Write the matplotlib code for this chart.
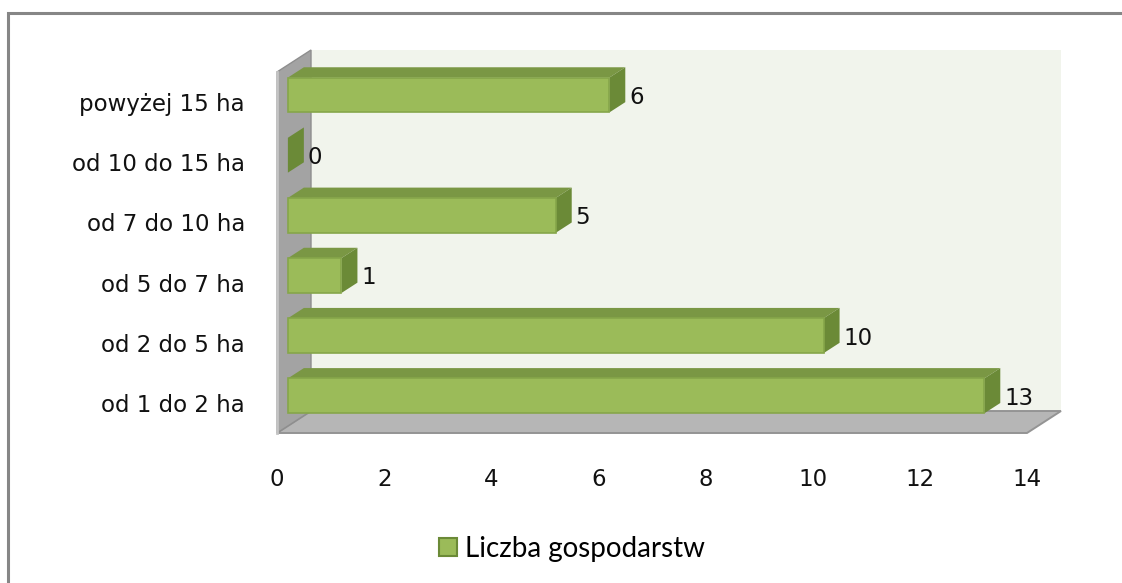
import matplotlib
matplotlib.use("Agg")
import matplotlib.pyplot as plt
from matplotlib.patches import Polygon, Patch, Rectangle

kategorie = ["od 1 do 2 ha", "od 2 do 5 ha", "od 5 do 7 ha",
             "od 7 do 10 ha", "od 10 do 15 ha", "powyżej 15 ha"]
liczba = [13, 10, 1, 5, 0, 6]
xticki = [0, 2, 4, 6, 8, 10, 12, 14]
seria = "Liczba gospodarstw"

# kolory w stylu excela
c_przod = "#9BBB59"
c_gora = "#7A9744"
c_bok = "#6B8A37"
c_krawedz = "#86A64A"
c_tyl = "#F1F4EC"
c_sciana = "#A3A3A3"
c_podloga = "#B6B6B6"

W, H = 1122, 583
fs = 16.5
fig = plt.figure(figsize=(W / 100, H / 100), dpi=100)

# ramka wykresu
fig.patches.append(Rectangle((8 / W, -0.1), 1.2, 1.1 - 13 / H, transform=fig.transFigure,
                             fill=False, edgecolor="#868686", linewidth=2.2))

ax = fig.add_axes([277 / W, 150 / H, 750 / W, 361 / H])
ax.set_xlim(0, 14)
ax.set_ylim(-0.5, 5.5)
ax.patch.set_alpha(0)
for s in ax.spines.values():
    s.set_visible(False)

# wektor glebokosci (jednostki danych)
dx, dy = 34 / 53.57, 22 / 60.2
f0, f1 = 0.32, 0.79
h = 0.58
xmax = xticki[-1]
y0, y1 = -0.5, len(kategorie) - 0.5


def poly(pts, fc, ec="none", lw=0, z=1):
    ax.add_patch(Polygon(pts, closed=True, facecolor=fc, edgecolor=ec,
                         linewidth=lw, zorder=z, clip_on=False))


# tylna sciana, podloga, lewa sciana
poly([(dx, y0 + dy), (xmax + dx, y0 + dy), (xmax + dx, y1 + dy), (dx, y1 + dy)], c_tyl, z=0)
poly([(0, y0), (xmax, y0), (xmax + dx, y0 + dy), (dx, y0 + dy)], c_podloga, "#949494", 1.4, z=1)
poly([(0, y0), (dx, y0 + dy), (dx, y1 + dy), (0, y1)], c_sciana, "#8E8E8E", 1.0, z=2)
ax.plot([0, 0], [y0, y1], color="#C4C4C4", lw=2, zorder=3, clip_on=False)

# slupki 3d
for i, v in enumerate(liczba):
    xa = f0 * dx
    ya = i - h / 2 + f0 * dy
    ex, ey = (f1 - f0) * dx, (f1 - f0) * dy
    z = 10 - i
    # gora
    poly([(xa, ya + h), (xa + v, ya + h), (xa + v + ex, ya + h + ey), (xa + ex, ya + h + ey)],
         c_gora, z=z)
    # bok
    poly([(xa + v, ya), (xa + v + ex, ya + ey), (xa + v + ex, ya + h + ey), (xa + v, ya + h)],
         c_bok, z=z)
    # przod
    if v > 0:
        poly([(xa, ya), (xa + v, ya), (xa + v, ya + h), (xa, ya + h)],
             c_przod, c_krawedz, 1.2, z=z)
    ax.text(xa + v + ex + 0.07, i + f0 * dy - 0.04, str(v), ha="left", va="center",
            fontsize=fs, color="#111111", zorder=20)

ax.set_yticks(range(len(kategorie)))
ax.set_yticklabels(kategorie, fontsize=fs, color="#111111")
ax.set_xticks(xticki)
ax.set_xticklabels([str(t) for t in xticki], fontsize=fs, color="#111111")
ax.tick_params(axis="y", length=0, pad=23)
ax.tick_params(axis="x", length=0, pad=25)

fig.legend(handles=[Patch(facecolor=c_przod, edgecolor=c_bok, linewidth=1.5, label=seria)],
           loc="center", bbox_to_anchor=(572 / W, 1 - 549 / H), frameon=False,
           prop={"family": "Lato", "size": 20}, handlelength=0.62, handleheight=0.62,
           handletextpad=0.3, borderpad=0, borderaxespad=0)

fig.savefig("out.png", dpi=100)
